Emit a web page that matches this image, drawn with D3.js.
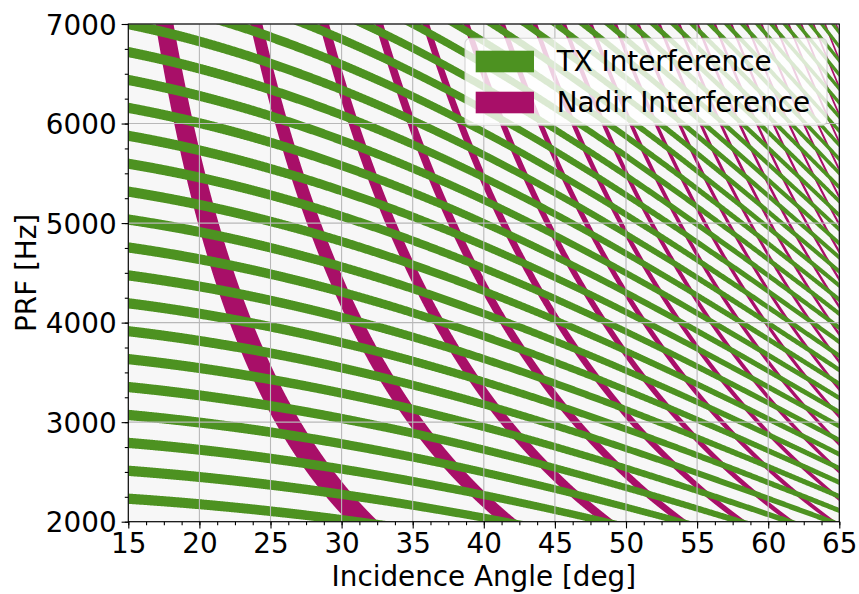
<!DOCTYPE html>
<html>
<head>
<meta charset="utf-8">
<script src="https://cdn.jsdelivr.net/npm/d3@7"></script>
<style>
  html, body { margin: 0; padding: 0; background: #ffffff; }
  svg { display: block; font-family: "DejaVu Sans", sans-serif; }
</style>
</head>
<body>
<svg id="chart" width="859" height="594"></svg>
<script>
// ---------------- data ----------------
// slant range of the swath centre vs incidence angle (from band spacing)
const incidenceDeg = [10, 15, 20, 25, 30, 35, 40, 45, 50, 55, 60, 65, 70];
const slantRangeKm = [521.33, 530.72, 544.31, 562.60, 586.30, 616.39, 654.20, 701.57, 761.17, 836.54, 932.87, 1057.59, 1221.08];
const nadirRangeKm = [514];
// blocked phase window (fraction of the PRI) around each ambiguity order
const txBandPhase = [-0.23, 0.14];
const txDelayOffsetUs = [25];
const nadirBandPhase = [0.0, 0.16];
const txOrders = [7, 8, 9, 10, 11, 12, 13, 14, 15, 16, 17, 18, 19, 20, 21, 22, 23, 24, 25, 26, 27, 28,
                  29, 30, 31, 32, 33, 34, 35, 36, 37, 38, 39, 40, 41, 42, 43, 44, 45, 46, 47, 48, 49, 50];
const nadirOrders = [1, 2, 3, 4, 5, 6, 7, 8, 9, 10, 11, 12, 13, 14, 15, 16, 17, 18, 19, 20, 21, 22, 23, 24, 25, 26];
const xTicks = [15, 20, 25, 30, 35, 40, 45, 50, 55, 60, 65];
const yTicks = [2000, 3000, 4000, 5000, 6000, 7000];
const legendLabels = ["TX Interference", "Nadir Interference"];
const colors = { tx: "#4d9221", nadir: "#a80f68", bg: "#f7f7f7" };

// ---------------- layout ----------------
const L = 128.3, R = 839.3, T = 24, B = 521.7;
const svg = d3.select("#chart");
const x = d3.scaleLinear().domain([15, 65]).range([L, R]);
const y = d3.scaleLinear().domain([2000, 7000]).range([B, T]);
const C_KM_S = 299792.458;

function slantRange(theta) {
  const step = incidenceDeg[1] - incidenceDeg[0];
  let i = Math.floor((theta - incidenceDeg[0]) / step);
  i = Math.max(1, Math.min(incidenceDeg.length - 3, i));
  const u = (theta - incidenceDeg[i]) / step;
  const p0 = slantRangeKm[i - 1], p1 = slantRangeKm[i], p2 = slantRangeKm[i + 1], p3 = slantRangeKm[i + 2];
  return 0.5 * (2 * p1 + (-p0 + p2) * u + (2 * p0 - 5 * p1 + 4 * p2 - p3) * u * u +
                (-p0 + 3 * p1 - 3 * p2 + p3) * u * u * u);
}
const delayS = th => 2 * slantRange(th) / C_KM_S;                // echo delay [s]
const nadirDelayS = th => 2 * (slantRange(th) - nadirRangeKm[0]) / C_KM_S;

const clampY = v => Math.max(-200, Math.min(800, v));

// background
svg.append("rect").attr("x", L).attr("y", T).attr("width", R - L).attr("height", B - T).attr("fill", colors.bg);

svg.append("defs").append("clipPath").attr("id", "plotclip")
  .append("rect").attr("x", L).attr("y", T).attr("width", R - L).attr("height", B - T);

const plot = svg.append("g").attr("clip-path", "url(#plotclip)");

const area = d3.area().x(d => x(d.th)).y0(d => clampY(y(d.lo))).y1(d => clampY(y(d.hi)));

// nadir bands
const thFine = d3.range(15, 65.0001, 0.01);
nadirOrders.forEach(m => {
  const pts = thFine.map(th => {
    const dt = nadirDelayS(th);
    return { th, lo: (m + nadirBandPhase[0]) / dt, hi: (m + nadirBandPhase[1]) / dt };
  });
  plot.append("path").attr("d", area(pts)).attr("fill", colors.nadir);
});

// TX bands
const thTx = d3.range(15, 65.0001, 0.05);
txOrders.forEach(n => {
  const pts = thTx.map(th => {
    const t = delayS(th) + txDelayOffsetUs[0] * 1e-6;
    return { th, lo: (n + txBandPhase[0]) / t, hi: (n + txBandPhase[1]) / t };
  });
  plot.append("path").attr("d", area(pts)).attr("fill", colors.tx);
});

// grid
const grid = svg.append("g").attr("stroke", "#b8b8b8").attr("stroke-width", 1.1);
xTicks.forEach(v => grid.append("line").attr("x1", x(v)).attr("x2", x(v)).attr("y1", T).attr("y2", B));
yTicks.forEach(v => grid.append("line").attr("x1", L).attr("x2", R).attr("y1", y(v)).attr("y2", y(v)));

// axes
const fs = 27.8;
const xAxis = d3.axisBottom(x).tickValues(xTicks).tickSize(6.7).tickPadding(4.5).tickFormat(d3.format("d"));
const xMinor = d3.axisBottom(x).tickValues(d3.range(15, 65.001, 1.25)).tickSize(3.5).tickFormat("");
const yAxis = d3.axisLeft(y).tickValues(yTicks).tickSize(6.7).tickPadding(5).tickFormat(d3.format("d"));
const yMinor = d3.axisLeft(y).tickValues(d3.range(2000, 7000.1, 250)).tickSize(3.5).tickFormat("");

function styleAxis(g) {
  g.select(".domain").remove();
  g.selectAll("line").attr("stroke", "#000").attr("stroke-width", 1.1);
  g.selectAll("text").attr("font-size", fs).attr("fill", "#000").attr("font-family", "DejaVu Sans");
}
svg.append("g").attr("transform", `translate(0,${B})`).call(xMinor).call(styleAxis);
svg.append("g").attr("transform", `translate(${L},0)`).call(yMinor).call(styleAxis);
const gx = svg.append("g").attr("transform", `translate(0,${B})`).call(xAxis).call(styleAxis);
gx.selectAll("text").attr("dy", null).attr("y", 31.3);
const gy = svg.append("g").attr("transform", `translate(${L},0)`).call(yAxis).call(styleAxis);
gy.selectAll("text").attr("dy", null).attr("y", 10);

// frame
svg.append("rect").attr("x", L).attr("y", T).attr("width", R - L).attr("height", B - T)
  .attr("fill", "none").attr("stroke", "#000").attr("stroke-width", 1.1);

// axis labels
svg.append("text").attr("x", (L + R) / 2).attr("y", 586).attr("text-anchor", "middle")
  .attr("font-size", fs).text("Incidence Angle [deg]");
svg.append("text").attr("transform", `translate(36,${(T + B) / 2}) rotate(-90)`).attr("text-anchor", "middle")
  .attr("font-size", fs).text("PRF [Hz]");

// legend
const lg = svg.append("g");
lg.append("rect").attr("x", 465).attr("y", 38.3).attr("width", 362).attr("height", 87).attr("rx", 5)
  .attr("fill", "#ffffff").attr("fill-opacity", 0.8).attr("stroke", "#cccccc").attr("stroke-opacity", 0.8).attr("stroke-width", 1.1);
[colors.tx, colors.nadir].forEach((c, i) => {
  const yy = 50.7 + i * 41;
  lg.append("rect").attr("x", 475.7).attr("y", yy).attr("width", 58.3).attr("height", 21.6).attr("fill", c);
  lg.append("text").attr("x", 556.7).attr("y", yy + 20).attr("font-size", fs).text(legendLabels[i]);
});
</script>
</body>
</html>
